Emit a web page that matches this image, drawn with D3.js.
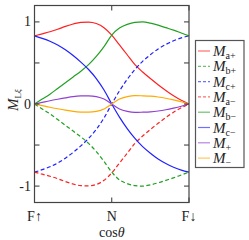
<!DOCTYPE html>
<html>
<head>
<meta charset="utf-8">
<script src="https://cdn.jsdelivr.net/npm/d3@7"></script>
<style>
  body { margin: 0; background: #fff; }
  text { font-family: "Liberation Serif", "DejaVu Serif", serif; fill: #222; }
</style>
</head>
<body>
<div id="chart"></div>
<script>
// positions along the path: 0 = F↑, 1 = N, 2 = F↓
const xPos = [0, 0.1, 0.2, 0.3, 0.4, 0.5, 0.6, 0.7, 0.8, 0.9, 1,
              1.1, 1.2, 1.3, 1.4, 1.5, 1.6, 1.7, 1.8, 1.9, 2];
const xTicks = [0, 1, 2];
const xTickLabels = ['F\u2191', 'N', 'F\u2193'];
const yTicks = [-1, -0.5, 0, 0.5, 1];
const yTickLabels = {'-1': '-1', '0': '0', '1': '1'};

const Ma_plus = [0.83, 0.855, 0.88, 0.91, 0.945, 0.975, 0.995, 0.998, 0.98, 0.93, 0.84,
                 0.72, 0.60, 0.48, 0.39, 0.31, 0.235, 0.165, 0.10, 0.045, 0];
const Mb_plus = [0, -0.06, -0.12, -0.19, -0.26, -0.33, -0.40, -0.48, -0.58, -0.70, -0.83,
                 -0.925, -0.97, -0.995, -1.0, -0.985, -0.96, -0.93, -0.90, -0.865, -0.83];
const Mc_plus = [-0.83, -0.80, -0.765, -0.72, -0.66, -0.59, -0.51, -0.42, -0.31, -0.17, 0,
                 0.16, 0.30, 0.42, 0.52, 0.60, 0.67, 0.725, 0.77, 0.805, 0.83];
const Ma_minus = [-0.83, -0.855, -0.88, -0.91, -0.945, -0.975, -0.995, -0.998, -0.98, -0.93, -0.84,
                  -0.72, -0.60, -0.48, -0.39, -0.31, -0.235, -0.165, -0.10, -0.045, 0];
const Mb_minus = [0, 0.06, 0.12, 0.19, 0.26, 0.33, 0.40, 0.48, 0.58, 0.70, 0.84,
                  0.925, 0.97, 0.995, 1.0, 0.985, 0.96, 0.93, 0.90, 0.865, 0.83];
const Mc_minus = [0.83, 0.80, 0.765, 0.72, 0.66, 0.59, 0.51, 0.42, 0.31, 0.17, 0,
                  -0.16, -0.30, -0.42, -0.52, -0.60, -0.67, -0.725, -0.77, -0.805, -0.83];
const M_plus = [0, 0.02, 0.04, 0.058, 0.075, 0.09, 0.098, 0.10, 0.09, 0.06, 0,
                -0.06, -0.09, -0.103, -0.10, -0.095, -0.085, -0.07, -0.05, -0.027, 0];
const M_minus = [0, -0.02, -0.04, -0.058, -0.075, -0.09, -0.098, -0.10, -0.09, -0.06, 0,
                 0.06, 0.09, 0.103, 0.10, 0.095, 0.085, 0.07, 0.05, 0.027, 0];

const series = [
  {name: 'a+', values: Ma_plus,  color: '#ff2020', dash: null},
  {name: 'b+', values: Mb_plus,  color: '#22a022', dash: '4,2.5'},
  {name: 'c+', values: Mc_plus,  color: '#2020ff', dash: '4,2.5'},
  {name: 'a\u2212', values: Ma_minus, color: '#ff2020', dash: '4,2.5'},
  {name: 'b\u2212', values: Mb_minus, color: '#22a022', dash: null},
  {name: 'c\u2212', values: Mc_minus, color: '#2020ff', dash: null},
  {name: '+', values: M_plus,  color: '#9040d0', dash: null},
  {name: '\u2212', values: M_minus, color: '#ffaa00', dash: null},
];

const width = 249, height = 240;
const svg = d3.select('#chart').append('svg')
  .attr('width', width).attr('height', height);

const x = d3.scaleLinear().domain([0, 2]).range([34.5, 189]);
const y = d3.scaleLinear().domain([-1.2, 1.2]).range([202.5, 5.5]);

const line = (vals) => d3.line()
  .x((d, i) => x(xPos[i]))
  .y(d => y(d))
  .curve(d3.curveMonotoneX)(vals);

// curves
svg.append('g').selectAll('path')
  .data(series)
  .join('path')
  .attr('d', d => line(d.values))
  .attr('fill', 'none')
  .attr('stroke', d => d.color)
  .attr('stroke-width', 1.2)
  .attr('stroke-dasharray', d => d.dash);

// ticks (inward, all four sides)
const tk = 5;
const ticks = svg.append('g').attr('stroke', '#333').attr('stroke-width', 1);
yTicks.forEach(v => {
  ticks.append('line').attr('x1', x(0)).attr('x2', x(0) + tk).attr('y1', y(v)).attr('y2', y(v));
  ticks.append('line').attr('x1', x(2)).attr('x2', x(2) - tk).attr('y1', y(v)).attr('y2', y(v));
});
xTicks.forEach(v => {
  ticks.append('line').attr('x1', x(v)).attr('x2', x(v)).attr('y1', y(-1.2)).attr('y2', y(-1.2) - tk);
  ticks.append('line').attr('x1', x(v)).attr('x2', x(v)).attr('y1', y(1.2)).attr('y2', y(1.2) + tk);
});

// frame
svg.append('rect')
  .attr('x', x(0)).attr('y', y(1.2))
  .attr('width', x(2) - x(0)).attr('height', y(-1.2) - y(1.2))
  .attr('fill', 'none').attr('stroke', '#444').attr('stroke-width', 1.2);

// y tick labels
yTicks.filter(v => yTickLabels[v] !== undefined).forEach(v => {
  svg.append('text').attr('x', 31).attr('y', y(v) + 4.5)
    .attr('text-anchor', 'end').attr('font-size', 14).text(yTickLabels[v]);
});

// x tick labels
xTicks.forEach((v, i) => {
  svg.append('text').attr('x', x(v)).attr('y', 221)
    .attr('text-anchor', 'middle').attr('font-size', 14).text(xTickLabels[i]);
});

// x axis title
const xt = svg.append('text').attr('x', x(1)).attr('y', 237)
  .attr('text-anchor', 'middle').attr('font-size', 14);
xt.append('tspan').text('cos');
xt.append('tspan').attr('font-style', 'italic').text('\u03b8');

// y axis title
const yt = svg.append('text')
  .attr('transform', `translate(18,${y(0) - 4}) rotate(-90)`)
  .attr('text-anchor', 'middle').attr('font-size', 15);
yt.append('tspan').attr('font-style', 'italic').text('M');
yt.append('tspan').attr('font-size', 9).attr('dy', 3).text('L');
yt.append('tspan').attr('font-size', 9).attr('font-style', 'italic').text('\u03be');

// legend
const lg = svg.append('g');
lg.append('rect').attr('x', 195.5).attr('y', 40.5).attr('width', 48.5).attr('height', 127)
  .attr('fill', '#fff').attr('stroke', '#555').attr('stroke-width', 1.2);
series.forEach((s, i) => {
  const ly = 51 + i * 15.3;
  lg.append('line').attr('x1', 198).attr('x2', 210).attr('y1', ly).attr('y2', ly)
    .attr('stroke', s.color).attr('stroke-width', 1.2).attr('stroke-opacity', 0.65)
    .attr('stroke-dasharray', s.dash ? '3,2' : null);
  const t = lg.append('text').attr('x', 213).attr('y', ly + 5).attr('font-size', 15);
  t.append('tspan').attr('font-style', 'italic').text('M');
  t.append('tspan').attr('font-size', 10).attr('dy', 3).text(s.name);
});
</script>
</body>
</html>
